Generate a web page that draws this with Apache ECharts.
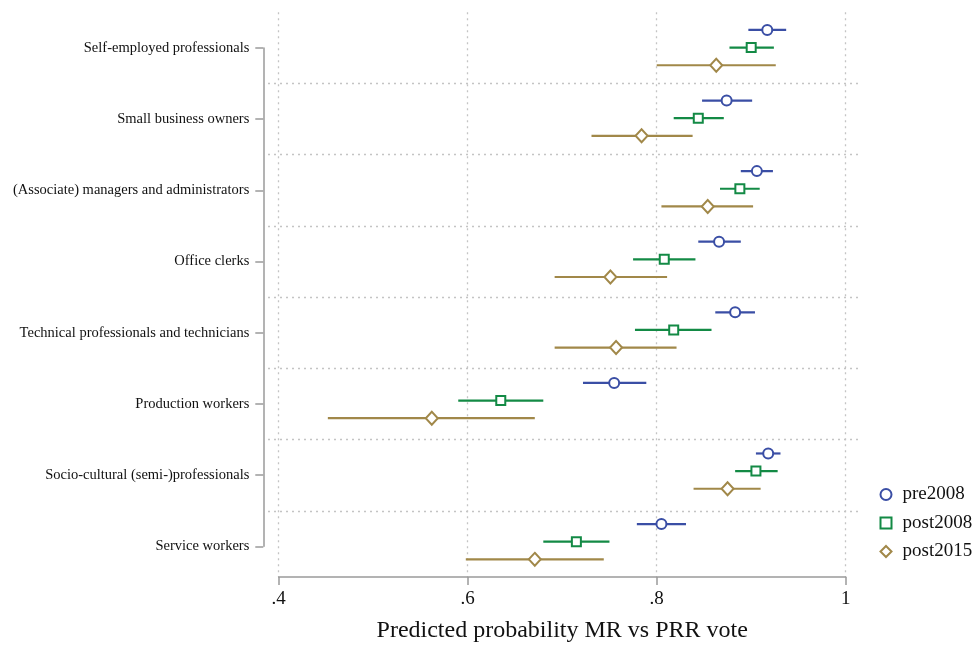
<!DOCTYPE html>
<html>
<head>
<meta charset="utf-8">
<script src="https://cdn.jsdelivr.net/npm/echarts@6/dist/echarts.min.js"></script>
<style>
  html, body { margin: 0; padding: 0; background: #fff; }
  #chart { width: 975px; height: 648px; }
</style>
</head>
<body>
<div id="chart"></div>
<script>
// occupational classes, top to bottom
const categories = [
  'Self-employed professionals',
  'Small business owners',
  '(Associate) managers and administrators',
  'Office clerks',
  'Technical professionals and technicians',
  'Production workers',
  'Socio-cultural (semi-)professionals',
  'Service workers'
]

// point estimates and 95% CI, one value per category
const pre2008 = [0.917, 0.874, 0.906, 0.866, 0.883, 0.755, 0.918, 0.805]
const pre2008Lo = [0.897, 0.848, 0.889, 0.844, 0.862, 0.722, 0.905, 0.779]
const pre2008Hi = [0.937, 0.901, 0.923, 0.889, 0.904, 0.789, 0.931, 0.831]

const post2008 = [0.900, 0.844, 0.888, 0.808, 0.818, 0.635, 0.905, 0.715]
const post2008Lo = [0.877, 0.818, 0.867, 0.775, 0.777, 0.590, 0.883, 0.680]
const post2008Hi = [0.924, 0.871, 0.909, 0.841, 0.858, 0.680, 0.928, 0.750]

const post2015 = [0.863, 0.784, 0.854, 0.751, 0.757, 0.562, 0.875, 0.671]
const post2015Lo = [0.800, 0.731, 0.805, 0.692, 0.692, 0.452, 0.839, 0.598]
const post2015Hi = [0.926, 0.838, 0.902, 0.811, 0.821, 0.671, 0.910, 0.744]

const xTicks = [0.4, 0.6, 0.8, 1]

const serif = 'Liberation Serif'
const gridColor = '#c4c4c4'
const axisColor = '#9a9a9a'

const groups = [
  { name: 'pre2008', pt: pre2008, lo: pre2008Lo, hi: pre2008Hi, off: 0.25, color: '#3a4ea5', symbol: 'circle', size: 10 },
  { name: 'post2008', pt: post2008, lo: post2008Lo, hi: post2008Hi, off: 0.5, color: '#138a45', symbol: 'rect', size: 9 },
  { name: 'post2015', pt: post2015, lo: post2015Lo, hi: post2015Hi, off: 0.75, color: '#a18849', symbol: 'diamond', size: [12, 13] }
]

const series = []
// markers first so the legend takes its look from them
groups.forEach(g => {
  series.push({
    name: g.name,
    type: 'scatter',
    xAxisIndex: 0,
    yAxisIndex: 0,
    symbol: g.symbol,
    symbolSize: g.size,
    itemStyle: { color: '#fff', borderColor: g.color, borderWidth: 2, opacity: 1 },
    data: categories.map((c, i) => [g.pt[i], i + g.off]),
    z: 3
  })
})
groups.forEach(g => {
  series.push({
    name: g.name,
    type: 'custom',
    xAxisIndex: 0,
    yAxisIndex: 0,
    silent: true,
    itemStyle: { color: g.color },
    encode: { x: [0, 1], y: 2 },
    data: categories.map((c, i) => [g.lo[i], g.hi[i], i + g.off]),
    renderItem (params, api) {
      const a = api.coord([api.value(0), api.value(2)])
      const b = api.coord([api.value(1), api.value(2)])
      return {
        type: 'line',
        shape: { x1: a[0], y1: a[1], x2: b[0], y2: b[1] },
        style: { stroke: g.color, lineWidth: 2.2 }
      }
    },
    z: 2
  })
})

const fmtTick = v => {
  const r = Math.round(v * 10) / 10
  if (!xTicks.includes(r)) return ''
  return r === 1 ? '1' : r.toFixed(1).replace(/^0/, '')
}

const mychart = echarts.init(document.getElementById('chart'))
const option = {
  animation: false,
  backgroundColor: '#fff',
  grid: [
    // data area
    { left: 278.7, right: 129.3, top: 12.3, bottom: 66 },
    // horizontal dotted separators, a bit wider than the data area
    { left: 268, right: 115, top: 12.3, bottom: 66 },
    // category axis, spans first to last label only
    { left: 263.3, width: 1, top: 47.9, bottom: 101.7 }
  ],
  xAxis: [
    {
      gridIndex: 0,
      type: 'value',
      position: 'bottom',
      min: 0.4,
      max: 1,
      interval: 0.2,
      axisLine: { show: true, onZero: false, lineStyle: { color: axisColor, width: 1.5 } },
      axisTick: { show: true, length: 8, lineStyle: { color: axisColor, width: 1.5 } },
      axisLabel: { margin: 13, fontFamily: serif, fontSize: 19, color: '#111', formatter: fmtTick },
      splitLine: { show: true, lineStyle: { color: gridColor, type: [2, 4], width: 1.3 } },
      name: 'Predicted probability MR vs PRR vote',
      nameLocation: 'middle',
      nameGap: 42,
      nameTextStyle: { fontFamily: serif, fontSize: 24, color: '#111' }
    },
    { gridIndex: 1, type: 'value', min: 0, max: 1, show: false },
    { gridIndex: 2, type: 'value', min: 0, max: 1, show: false }
  ],
  yAxis: [
    { gridIndex: 0, type: 'value', min: 0, max: 8, inverse: true, show: false },
    {
      gridIndex: 1,
      type: 'value',
      min: 0,
      max: 8,
      interval: 1,
      inverse: true,
      axisLine: { show: false },
      axisTick: { show: false },
      axisLabel: { show: false },
      splitLine: { show: true, showMinLine: false, showMaxLine: false, lineStyle: { color: gridColor, type: [2, 4], width: 1.3 } }
    },
    {
      gridIndex: 2,
      type: 'category',
      data: categories,
      inverse: true,
      boundaryGap: false,
      axisLine: { show: true, lineStyle: { color: axisColor, width: 1.5 } },
      axisTick: { show: true, length: 8, lineStyle: { color: axisColor, width: 1.5 } },
      axisLabel: { margin: 14, fontFamily: serif, fontSize: 14.5, color: '#111', interval: 0 },
      splitLine: { show: false }
    }
  ],
  legend: {
    orient: 'vertical',
    left: 879.5,
    top: 485,
    padding: 0,
    itemWidth: 11,
    itemHeight: 11,
    itemGap: 9.5,
    data: groups.map(g => ({
      name: g.name,
      icon: g.symbol,
      itemStyle: { color: '#fff', borderColor: g.color, borderWidth: 2 }
    })),
    textStyle: { fontFamily: serif, fontSize: 19, color: '#111', lineHeight: 19, padding: [0, 0, 0, 6] }
  },
  series
}
mychart.setOption(option)
window.addEventListener('resize', function () {
  mychart.resize()
})
</script>
</body>
</html>
